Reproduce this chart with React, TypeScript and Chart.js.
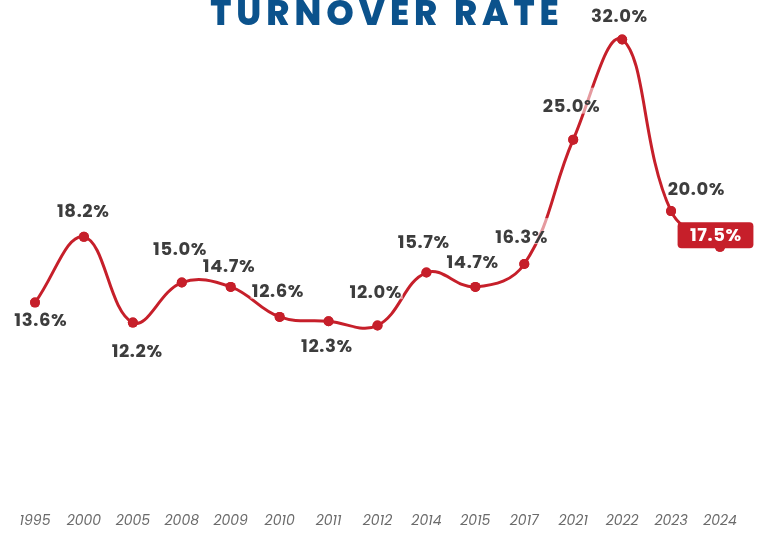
import React, { useEffect, useRef } from "react";
import { Chart, registerables } from "chart.js";

Chart.register(...registerables);

// ---- data ----
const years: string[] = [
  "1995", "2000", "2005", "2008", "2009", "2010", "2011", "2012",
  "2014", "2015", "2017", "2021", "2022", "2023", "2024",
];
const turnoverRates: number[] = [
  13.6, 18.2, 12.2, 15.0, 14.7, 12.6, 12.3, 12.0, 15.7, 14.7, 16.3, 25.0, 32.0, 20.0, 17.5,
];
const rateLabels: string[] = turnoverRates.map((v) => v.toFixed(1) + "%");
const chartTitle = "TURNOVER RATE";

// ---- label placement (offset of label centre from its point, px) ----
const labelOffsets: [number, number][] = [
  [5.5, 18], [-1, -25], [4, 29], [-2, -33.5], [-2, -20.7], [-2, -25.2], [-2, 25.5], [-2, -33.3],
  [-3, -30.4], [-3, -24.7], [-3, -26.9], [-2, -33], [-3, -23], [25, -21.5], [-4.5, -11.7],
];

const RED = "#c61f2a";
const FONT = "Poppins, Inter, 'Open Sans', sans-serif";

const labelPlugin = {
  id: "valueLabels",
  afterDatasetsDraw(chart: any) {
    const ctx: CanvasRenderingContext2D = chart.ctx;
    const meta = chart.getDatasetMeta(0);
    const last = meta.data.length - 1;
    ctx.save();
    ctx.font = `700 18px ${FONT}`;
    (ctx as any).letterSpacing = "0.6px";
    // translucent label backgrounds over the line
    meta.data.forEach((pt: any, i: number) => {
      if (i === last) return;
      const [dx, dy] = labelOffsets[i];
      const w = ctx.measureText(rateLabels[i]).width;
      const cx = pt.x + dx;
      const cy = pt.y + dy;
      ctx.fillStyle = "rgba(255,255,255,0.55)";
      ctx.fillRect(cx - w / 2 - 1, cy - 19, w + 2, 26);
    });
    // points on top of the backgrounds
    meta.data.forEach((pt: any) => pt.draw(ctx, chart.chartArea));
    // text
    ctx.textAlign = "center";
    ctx.textBaseline = "middle";
    meta.data.forEach((pt: any, i: number) => {
      const [dx, dy] = labelOffsets[i];
      const cx = pt.x + dx;
      const cy = pt.y + dy;
      if (i === last) {
        const w = ctx.measureText(rateLabels[i]).width;
        const bw = w + 24;
        const bh = 26;
        ctx.fillStyle = RED;
        ctx.beginPath();
        (ctx as any).roundRect(cx - bw / 2, cy - bh / 2, bw, bh, 4);
        ctx.fill();
        ctx.fillStyle = "#ffffff";
        ctx.fillText(rateLabels[i], cx + 0.3, cy + 1);
      } else {
        ctx.fillStyle = "#3d3d3d";
        ctx.fillText(rateLabels[i], cx + 0.3, cy + 1);
      }
    });
    ctx.restore();
  },
};

const titlePlugin = {
  id: "cutTitle",
  afterDraw(chart: any) {
    const ctx: CanvasRenderingContext2D = chart.ctx;
    ctx.save();
    ctx.font = `800 35px ${FONT}`;
    (ctx as any).letterSpacing = "5px";
    ctx.fillStyle = "#0b528c";
    ctx.textAlign = "center";
    ctx.textBaseline = "alphabetic";
    ctx.fillText(chartTitle, 387, 25);
    ctx.restore();
  },
};

export default function App() {
  const canvasRef = useRef<HTMLCanvasElement | null>(null);

  useEffect(() => {
    if (!canvasRef.current) return;
    const chart = new Chart(canvasRef.current, {
      type: "line",
      data: {
        labels: years,
        datasets: [
          {
            data: turnoverRates,
            borderColor: RED,
            backgroundColor: RED,
            borderWidth: 3,
            tension: 0.4,
            pointRadius: 5,
            pointBorderWidth: 0,
            pointBackgroundColor: RED,
            pointHoverRadius: 5,
            fill: false,
            clip: false as any,
          },
        ],
      },
      options: {
        animation: false,
        responsive: true,
        maintainAspectRatio: false,
        layout: { padding: { left: 35, right: 40, top: 11, bottom: 0 } },
        plugins: {
          legend: { display: false },
          title: { display: false },
          tooltip: { enabled: false },
        },
        scales: {
          x: {
            offset: false,
            grid: { display: false, drawTicks: false },
            border: { display: false },
            afterFit: (scale: any) => {
              scale.height = 36;
            },
            ticks: {
              padding: 16,
              color: "#6b6b6b",
              font: { family: FONT, size: 14, style: "italic" },
              maxRotation: 0,
              autoSkip: false,
            },
          },
          y: {
            display: false,
            min: 0,
            max: 34,
          },
        },
      },
      plugins: [labelPlugin, titlePlugin],
    });
    return () => chart.destroy();
  }, []);

  return (
    <div style={{ position: "fixed", left: 0, top: 0, width: 760, height: 533, background: "#fff" }}>
      <canvas ref={canvasRef} />
    </div>
  );
}
